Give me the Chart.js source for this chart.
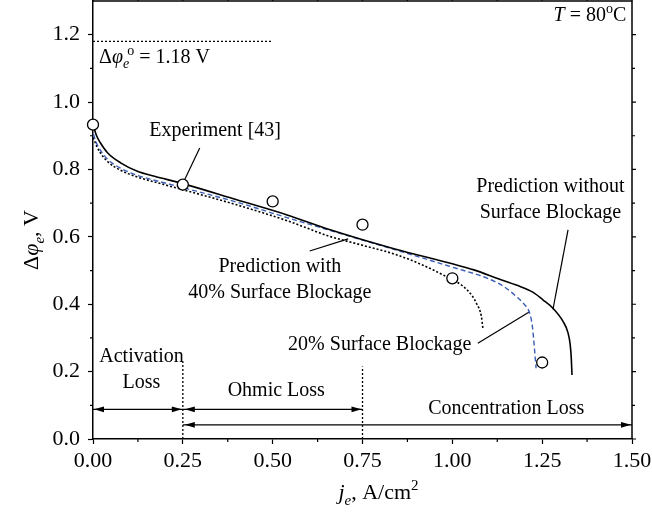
<!DOCTYPE html>
<html>
<head>
<meta charset="utf-8">
<script src="https://cdn.jsdelivr.net/npm/chart.js@4.4.1/dist/chart.umd.min.js"></script>
<style>
  html, body { margin: 0; padding: 0; background: #fff; }
</style>
</head>
<body>
<canvas id="canvas" width="652" height="525"></canvas>
<script>
// experiment [43]
const expJ = [0.0, 0.25, 0.5, 0.75, 1.0, 1.25]
const expV = [0.933, 0.755, 0.705, 0.636, 0.477, 0.227]

// prediction without surface blockage
const noBlockJ = [0.001, 0.01, 0.02, 0.041, 0.078, 0.125, 0.171, 0.25, 0.4, 0.54, 0.66, 0.84, 1.0, 1.06, 1.13, 1.18, 1.225, 1.252, 1.28, 1.308, 1.322, 1.328, 1.331, 1.333]
const noBlockV = [0.93, 0.9, 0.88, 0.849, 0.819, 0.794, 0.78, 0.758, 0.71, 0.665, 0.621, 0.564, 0.52, 0.502, 0.475, 0.456, 0.435, 0.413, 0.388, 0.349, 0.315, 0.28, 0.24, 0.19]

// 20% surface blockage
const block20J = [0.001, 0.01, 0.02, 0.041, 0.078, 0.125, 0.171, 0.25, 0.4, 0.54, 0.66, 0.84, 1.0, 1.095, 1.14, 1.178, 1.2, 1.215, 1.222, 1.226, 1.23, 1.233]
const block20V = [0.905, 0.878, 0.858, 0.83, 0.803, 0.782, 0.768, 0.746, 0.703, 0.657, 0.619, 0.562, 0.51, 0.478, 0.455, 0.423, 0.4, 0.374, 0.34, 0.3, 0.25, 0.21]

// 40% surface blockage
const block40J = [0.001, 0.01, 0.02, 0.041, 0.078, 0.125, 0.171, 0.25, 0.4, 0.54, 0.66, 0.75, 0.844, 0.92, 0.983, 1.03, 1.055, 1.067, 1.081, 1.085]
const block40V = [0.895, 0.87, 0.85, 0.823, 0.797, 0.777, 0.763, 0.74, 0.695, 0.648, 0.601, 0.575, 0.547, 0.515, 0.482, 0.453, 0.425, 0.403, 0.363, 0.329]

const xTicks = [0, 0.25, 0.5, 0.75, 1.0, 1.25, 1.5]
const yTicks = [0, 0.2, 0.4, 0.6, 0.8, 1.0, 1.2]
const xMinor = [0.125, 0.375, 0.625, 0.875, 1.125, 1.375]
const yMinor = [0.1, 0.3, 0.5, 0.7, 0.9, 1.1]

const openCircuitV = 1.18
const lossBounds = [0, 0.25, 0.75, 1.5]

const noteText = ['Experiment [43]', 'Prediction with', '40% Surface Blockage', '20% Surface Blockage', 'Prediction without', 'Surface Blockage', 'Activation', 'Loss', 'Ohmic Loss', 'Concentration Loss']
const noteX = [0.340, 0.520, 0.520, 0.798, 1.273, 1.273, 0.135, 0.135, 0.510, 1.150]
const noteY = [0.915, 0.512, 0.433, 0.279, 0.750, 0.671, 0.245, 0.166, 0.143, 0.091]

const FONT = '"Liberation Serif", "Times New Roman", serif'

function pts(xs, ys) {
  return xs.map((x, i) => ({ x: x, y: ys[i] }))
}

function seg(x1, y1, x2, y2) {
  return [{ x: x1, y: y1 }, { x: x2, y: y2 }]
}

function lineSet(data, color, width, dash) {
  return {
    data: data, showLine: true, borderColor: color, borderWidth: width,
    borderDash: dash || [], pointRadius: 0, fill: false, clip: false
  }
}

function drawRuns(ctx, runs, x, baseY, align, size) {
  size = size || 20
  const small = Math.round(size * 0.7)
  const fontFor = r => (r.it ? 'italic ' : '') + (r.sub || r.sup ? small : size) + 'px ' + FONT
  let total = 0
  runs.forEach(r => { ctx.font = fontFor(r); total += ctx.measureText(r.t).width + (r.dx || 0) })
  let cx = align === 'right' ? x - total : align === 'center' ? x - total / 2 : x
  ctx.textAlign = 'left'
  ctx.textBaseline = 'alphabetic'
  runs.forEach(r => {
    ctx.font = fontFor(r)
    cx += (r.dx || 0)
    const dy = r.sub ? size * 0.25 : r.sup ? -size * 0.4 : 0
    ctx.fillText(r.t, cx, baseY + dy)
    cx += ctx.measureText(r.t).width
  })
}

function arrowHead(ctx, tipX, y, dir) {
  ctx.beginPath()
  ctx.moveTo(tipX, y)
  ctx.lineTo(tipX - dir * 10, y - 2.8)
  ctx.lineTo(tipX - dir * 10, y + 2.8)
  ctx.closePath()
  ctx.fill()
}

const decorations = {
  id: 'decorations',
  afterDatasetsDraw(chart) {
    const ctx = chart.ctx
    const xs = chart.scales.x, ys = chart.scales.y
    const a = chart.chartArea
    ctx.save()
    ctx.strokeStyle = '#000'
    ctx.fillStyle = '#000'

    // top and right frame
    ctx.lineWidth = 1.5
    ctx.beginPath()
    ctx.moveTo(a.left, a.top); ctx.lineTo(a.right, a.top); ctx.lineTo(a.right, a.bottom)
    ctx.stroke()

    // minor and mirrored ticks
    ctx.lineWidth = 1.2
    ctx.beginPath()
    xMinor.forEach(v => {
      const px = xs.getPixelForValue(v)
      ctx.moveTo(px, a.bottom); ctx.lineTo(px, a.bottom + 3)
      ctx.moveTo(px, a.top); ctx.lineTo(px, a.top - 3)
    })
    xTicks.forEach(v => {
      const px = xs.getPixelForValue(v)
      ctx.moveTo(px, a.top); ctx.lineTo(px, a.top - 5)
    })
    yMinor.forEach(v => {
      const py = ys.getPixelForValue(v)
      ctx.moveTo(a.left, py); ctx.lineTo(a.left - 3, py)
      ctx.moveTo(a.right, py); ctx.lineTo(a.right + 3, py)
    })
    yTicks.forEach(v => {
      const py = ys.getPixelForValue(v)
      ctx.moveTo(a.right, py); ctx.lineTo(a.right + 4, py)
    })
    ctx.stroke()

    // arrow heads of the loss regions
    const yAct = ys.getPixelForValue(0.088)
    const yCon = ys.getPixelForValue(0.042)
    arrowHead(ctx, xs.getPixelForValue(lossBounds[0]) + 1, yAct, -1)
    arrowHead(ctx, xs.getPixelForValue(lossBounds[1]) - 1, yAct, 1)
    arrowHead(ctx, xs.getPixelForValue(lossBounds[1]) + 2, yAct, -1)
    arrowHead(ctx, xs.getPixelForValue(lossBounds[2]) - 1, yAct, 1)
    arrowHead(ctx, xs.getPixelForValue(lossBounds[1]) + 2, yCon, -1)
    arrowHead(ctx, xs.getPixelForValue(lossBounds[3]) - 1, yCon, 1)

    // annotations
    ctx.font = '20px ' + FONT
    ctx.textAlign = 'center'
    ctx.textBaseline = 'middle'
    noteText.forEach((t, i) => {
      ctx.fillText(t, xs.getPixelForValue(noteX[i]), ys.getPixelForValue(noteY[i]))
    })

    drawRuns(ctx, [
      { t: 'Δ' }, { t: 'φ', it: true }, { t: 'e', it: true, sub: true }, { t: 'o', sup: true, dx: -2 },
      { t: ' = 1.18 V' }
    ], xs.getPixelForValue(0.017), ys.getPixelForValue(1.136) + 7, 'left')

    drawRuns(ctx, [
      { t: 'T', it: true }, { t: ' = 80' }, { t: 'o', sup: true }, { t: 'C' }
    ], xs.getPixelForValue(1.484), ys.getPixelForValue(1.26) + 7, 'right')

    // axis titles
    drawRuns(ctx, [
      { t: 'j', it: true }, { t: 'e', it: true, sub: true }, { t: ', A/cm' }, { t: '2', sup: true }
    ], (a.left + a.right) / 2 + 16, a.bottom + 60, 'center', 22)

    ctx.save()
    ctx.translate(38, (a.top + a.bottom) / 2 + 20)
    ctx.rotate(-Math.PI / 2)
    drawRuns(ctx, [
      { t: 'Δ' }, { t: 'φ', it: true }, { t: 'e', it: true, sub: true }, { t: ', V' }
    ], 0, 0, 'center', 22)
    ctx.restore()

    ctx.restore()
  }
}

const ctx = document.getElementById('canvas').getContext('2d')
const chart = new Chart(ctx, {
  type: 'scatter',
  data: {
    datasets: [
      {
        data: pts(expJ, expV), pointStyle: 'circle', pointRadius: 5.5,
        pointBorderColor: '#000', pointBackgroundColor: '#fff', pointBorderWidth: 1.3,
        showLine: false, clip: false
      },
      Object.assign(lineSet(pts(noBlockJ, noBlockV), '#000', 1.6), { cubicInterpolationMode: 'monotone' }),
      Object.assign(lineSet(pts(block20J, block20V), '#3b5fb5', 1.4, [5, 3]), { cubicInterpolationMode: 'monotone' }),
      Object.assign(lineSet(pts(block40J, block40V), '#000', 1.6, [2, 2]), { cubicInterpolationMode: 'monotone' }),
      lineSet(seg(0, openCircuitV, 0.5, openCircuitV), '#000', 1.3, [2, 2]),
      lineSet(seg(lossBounds[1], 0, lossBounds[1], 0.23), '#000', 1.3, [2, 2]),
      lineSet(seg(lossBounds[2], 0, lossBounds[2], 0.215), '#000', 1.3, [2, 2]),
      lineSet(seg(lossBounds[0], 0.088, lossBounds[2], 0.088), '#000', 1.2),
      lineSet(seg(lossBounds[1], 0.042, lossBounds[3], 0.042), '#000', 1.2),
      lineSet(seg(0.297, 0.864, 0.253, 0.765), '#000', 1.2),
      lineSet(seg(0.603, 0.558, 0.710, 0.594), '#000', 1.2),
      lineSet(seg(1.071, 0.284, 1.215, 0.378), '#000', 1.2),
      lineSet(seg(1.280, 0.385, 1.322, 0.621), '#000', 1.2)
    ]
  },
  options: {
    responsive: false,
    animation: false,
    devicePixelRatio: 1,
    layout: { autoPadding: false, padding: { left: 0, right: 20, top: 1, bottom: 0 } },
    plugins: { legend: { display: false }, tooltip: { enabled: false } },
    scales: {
      x: {
        type: 'linear', min: 0, max: 1.5,
        afterBuildTicks: s => { s.ticks = xTicks.map(v => ({ value: v })) },
        afterFit: s => { s.height = 86; s.paddingLeft = 0; s.paddingRight = 0 },
        ticks: {
          callback: v => Number(v).toFixed(2), color: '#000', padding: 4,
          font: { family: FONT, size: 22 }, maxRotation: 0, autoSkip: false
        },
        grid: { drawOnChartArea: false, tickLength: 5, color: '#000', tickWidth: 1.2 },
        border: { color: '#000', width: 1.5 }
      },
      y: {
        type: 'linear', min: 0, max: 1.3,
        afterBuildTicks: s => { s.ticks = yTicks.map(v => ({ value: v })) },
        afterFit: s => { s.width = 93; s.paddingTop = 0; s.paddingBottom = 0 },
        ticks: {
          callback: v => Number(v).toFixed(1), color: '#000', padding: 8,
          font: { family: FONT, size: 22 }, autoSkip: false
        },
        grid: { drawOnChartArea: false, tickLength: 5, color: '#000', tickWidth: 1.2 },
        border: { color: '#000', width: 1.5 }
      }
    }
  },
  plugins: [decorations]
})
</script>
</body>
</html>
